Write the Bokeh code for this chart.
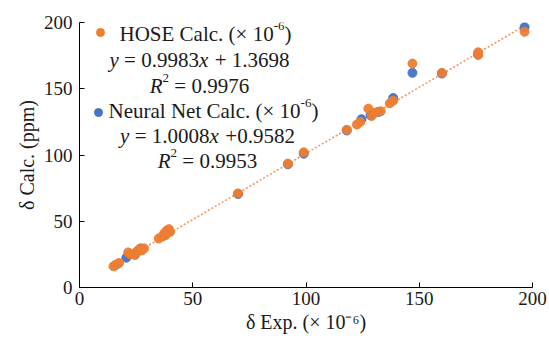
from bokeh.plotting import figure
from bokeh.models import Label, Range1d, FixedTicker
from bokeh.embed import file_html
from bokeh.resources import INLINE

# ---- data ----
hose_exp = [15.0, 16.5, 17.5, 21.5, 22.5, 24.5, 25.5, 26.5, 27.5, 28.5,
            35.0, 36.5, 37.5, 38.5, 39.5, 38.0, 40.0, 70.0, 92.0, 99.0,
            118.0, 122.5, 124.0, 127.5, 129.0, 130.5, 133.0, 137.0, 138.5,
            147.0, 160.0, 176.0, 176.0, 196.5]
hose_calc = [16.0, 17.5, 18.5, 26.5, 25.0, 24.5, 27.5, 29.0, 28.0, 29.5,
             37.0, 38.5, 41.0, 43.0, 44.0, 39.5, 42.0, 71.0, 93.5, 102.0,
             119.0, 123.0, 125.0, 135.0, 129.5, 132.0, 133.0, 139.0, 141.0,
             169.0, 162.0, 175.5, 177.5, 193.0]
nn_exp = [16.0, 20.7, 25.0, 27.0, 37.0, 39.0, 70.0, 92.0, 99.0, 118.0,
          124.5, 128.5, 132.0, 138.5, 147.0, 160.0, 176.0, 196.5]
nn_calc = [17.0, 22.5, 26.0, 29.5, 39.0, 42.0, 70.5, 93.0, 101.0, 118.5,
           127.0, 130.0, 132.5, 143.0, 162.0, 161.5, 176.0, 196.5]
hose_slope, hose_intercept = 0.9983, 1.3698
x_ticks = [0, 50, 100, 150, 200]
y_ticks = [0, 50, 100, 150, 200]

ORANGE = "#ED7D31"
BLUE = "#4472C4"
SERIF = "Liberation Serif"
TXT = "#1a1a1a"
NB = "\u00a0"

W, H = 549, 339
L, R, T, B = 79, 17, 22, 52

p = figure(width=W, height=H, x_range=Range1d(0, 200), y_range=Range1d(0, 200),
           output_backend="svg", toolbar_location=None,
           min_border_left=L, min_border_right=R, min_border_top=T, min_border_bottom=B)
p.outline_line_color = None
p.xgrid.visible = False
p.ygrid.visible = False
p.background_fill_color = "white"
p.border_fill_color = "white"

for ax in (p.xaxis[0], p.yaxis[0]):
    ax.axis_line_color = "black"
    ax.axis_line_width = 1
    ax.major_tick_in = 5
    ax.major_tick_out = 0
    ax.minor_tick_line_color = None
    ax.major_tick_line_color = "black"
    ax.major_label_text_font = SERIF
    ax.major_label_text_font_size = "19px"
    ax.major_label_text_color = TXT
    ax.axis_label_text_font = SERIF
    ax.axis_label_text_font_size = "20px"
    ax.axis_label_text_font_style = "normal"
    ax.axis_label_text_color = TXT
p.xaxis.ticker = FixedTicker(ticks=x_ticks)
p.yaxis.ticker = FixedTicker(ticks=y_ticks)
p.xaxis.major_label_standoff = 4
p.yaxis.major_label_standoff = 7
p.xaxis.axis_label = "δ Exp. (× 10⁻⁶)"
p.yaxis.axis_label = "δ Calc. (ppm)"
p.xaxis.axis_label_standoff = 3
p.yaxis.axis_label_standoff = 3

# trend line (HOSE fit)
x0, x1 = min(hose_exp) - 1, max(hose_exp) + 1
p.line([x0, x1], [hose_slope * x0 + hose_intercept, hose_slope * x1 + hose_intercept],
       line_color=ORANGE, line_width=1.6, line_dash="2 2", line_alpha=0.8)

p.scatter(nn_exp, nn_calc, size=9, fill_color=BLUE, line_color=BLUE, alpha=0.95)
p.scatter(hose_exp, hose_calc, size=9, fill_color=ORANGE, line_color=ORANGE, alpha=0.95)

# ---- text helpers ----
FW = 453.0 / 200.0
FH = 265.0 / 200.0
def px2d(px, py):
    return (px - L) / FW, (H - B - py) / FH

WID = {' ': 250, NB: 250, '(': 333, ')': 333, '.': 250, '=': 564, '+': 564, '×': 564,
       '-': 333, 'H': 722, 'O': 722, 'S': 556, 'E': 611, 'C': 667, 'a': 444,
       'l': 278, 'c': 444, 'N': 722, 'e': 444, 'u': 500, 'r': 333, 't': 278,
       'y': 444, 'x': 500, 'R': 611, 'p': 500, 'm': 778}
def tw(s, fs):
    return sum(WID.get(ch, 500) for ch in s) / 1000.0 * fs

def rich_text(segs, cx, cy, fs):
    # segs: (text, style, is_superscript); centred at pixel (cx, cy)
    sizes = [fs * (0.62 if sup else 1.0) for _, _, sup in segs]
    widths = [tw(t, s) for (t, _, _), s in zip(segs, sizes)]
    total = sum(widths)
    xd, yd = px2d(cx - total / 2.0, cy)
    off = 0.0
    for (t, st, sup), s, w in zip(segs, sizes, widths):
        rise = fs * 0.38 if sup else 0.0
        p.add_layout(Label(x=xd, y=yd, x_offset=off, y_offset=rise,
                           text=t.replace(" ", NB), text_font=SERIF, text_font_style=st,
                           text_font_size=f"{s:.1f}px", text_color=TXT,
                           text_baseline="middle", text_align="left"))
        off += w

FS = 21
rich_text([("HOSE Calc. (× 10", "normal", False), ("-6", "normal", True), (")", "normal", False)], 205, 33, FS)
rich_text([("y", "italic", False), (" = 0.9983", "normal", False), ("x", "italic", False), (" + 1.3698", "normal", False)], 199, 59, FS)
rich_text([("R", "italic", False), ("2", "normal", True), (" = 0.9976", "normal", False)], 199, 85, FS)
rich_text([("Neural Net Calc. (× 10", "normal", False), ("-6", "normal", True), (")", "normal", False)], 213, 110, FS)
rich_text([("y", "italic", False), (" = 1.0008", "normal", False), ("x", "italic", False), (" +0.9582", "normal", False)], 207, 135, FS)
rich_text([("R", "italic", False), ("2", "normal", True), (" = 0.9953", "normal", False)], 207, 160, FS)

mx1, my1 = px2d(100, 32)
mx2, my2 = px2d(98, 112)
p.scatter([mx1], [my1], size=8, fill_color=ORANGE, line_color=ORANGE)
p.scatter([mx2], [my2], size=8, fill_color=BLUE, line_color=BLUE)

open("out.html", "w").write(file_html(p, INLINE))
